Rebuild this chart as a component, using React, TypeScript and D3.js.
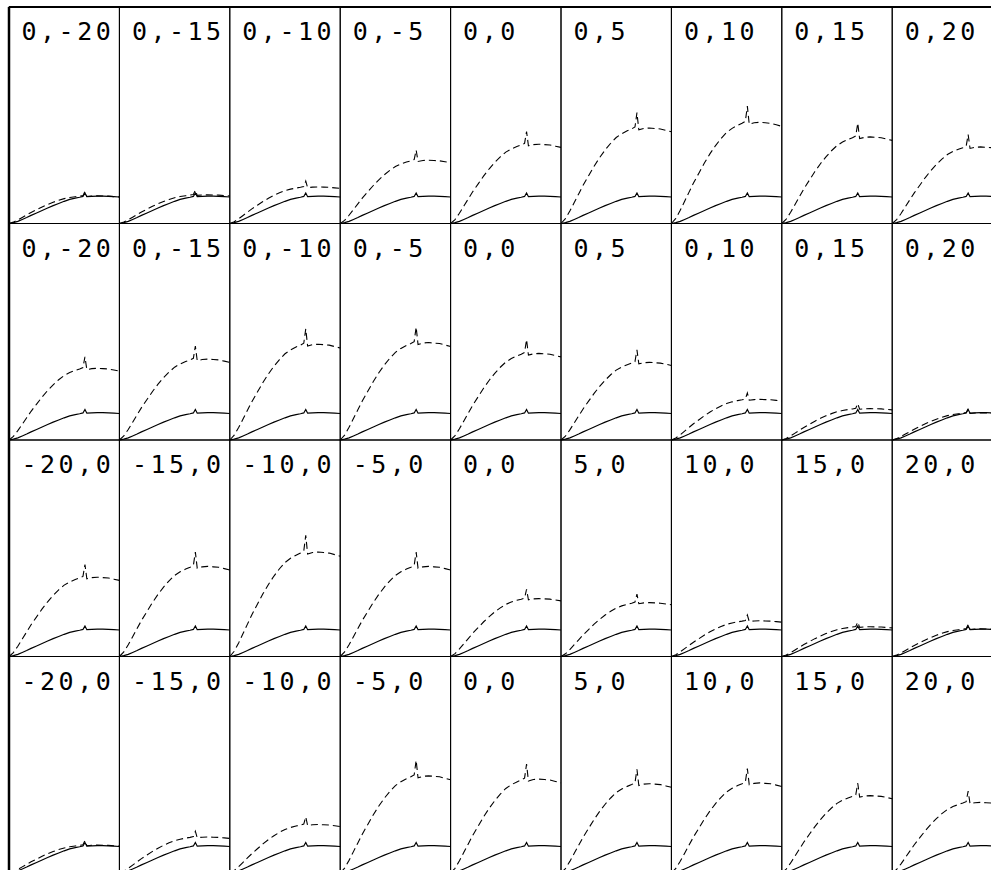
import * as d3 from 'd3';

// panel titles, one list per row of the grid
const row1Labels = ["0,-20", "0,-15", "0,-10", "0,-5", "0,0", "0,5", "0,10", "0,15", "0,20"];
const row2Labels = ["0,-20", "0,-15", "0,-10", "0,-5", "0,0", "0,5", "0,10", "0,15", "0,20"];
const row3Labels = ["-20,0", "-15,0", "-10,0", "-5,0", "0,0", "5,0", "10,0", "15,0", "20,0"];
const row4Labels = ["-20,0", "-15,0", "-10,0", "-5,0", "0,0", "5,0", "10,0", "15,0", "20,0"];

// plateau level of the dashed curve in each panel (solid plateau = 1)
const row1Dashed = [1.02, 1.06, 1.35, 2.34, 2.93, 3.53, 3.74, 3.2, 2.83];
const row2Dashed = [2.65, 2.99, 3.54, 3.6, 3.2, 2.87, 1.5, 1.16, 1.0];
const row3Dashed = [2.93, 3.33, 3.86, 3.33, 2.14, 1.99, 1.32, 1.1, 1.02];
const row4Dashed = [1.03, 1.33, 1.79, 3.59, 3.47, 3.3, 3.33, 2.86, 2.61];

// sample positions along each panel
const xs = [0, 4, 8, 12, 16, 20, 25, 30, 35, 40, 45, 50, 55, 60, 64, 67, 68.8, 70.5, 75, 80, 85, 90, 95, 100];
// reference (solid) curve, same in every panel
const solidValues = [0, 0.03, 0.08, 0.15, 0.22, 0.3, 0.39, 0.48, 0.57, 0.66, 0.74, 0.82, 0.89, 0.94, 0.97, 1.0, 1.13, 0.99, 1.0, 1.01, 1.01, 1.0, 0.99, 0.98];
// dashed curve profile relative to its plateau
const dashedProfile = [0, 0.05, 0.13, 0.22, 0.31, 0.4, 0.5, 0.6, 0.69, 0.77, 0.84, 0.9, 0.94, 0.97, 0.99, 1.01, 1.16, 0.98, 0.995, 1.0, 0.995, 0.99, 0.975, 0.96];

const rows = [
	{ labels: row1Labels, dashed: row1Dashed },
	{ labels: row2Labels, dashed: row2Dashed },
	{ labels: row3Labels, dashed: row3Dashed },
	{ labels: row4Labels, dashed: row4Dashed },
];

const App = () => {
	const left = 9;
	const top = 7;
	const panelW = 110.4;
	const panelH = 216.5;

	const x = d3.scaleLinear().domain([0, 100]).range([0, panelW]);
	const y = d3.scaleLinear().domain([0, 8]).range([panelH, 0]);

	const line = d3.line<[number, number]>()
		.x(d => x(d[0]))
		.y(d => y(d[1]));

	const solidPath = line(xs.map((v, i) => [v, solidValues[i]] as [number, number])) || "";

	return (
		<svg width={991} height={870} style={{ position: "absolute", left: 0, top: 0, background: "#fff" }}>
			{rows.map((row, r) => (
				<g key={r} transform={"translate(" + left + "," + (top + r * panelH) + ")"}>
					{row.labels.map((lab, c) => {
						const dashedPath = line(xs.map((v, i) => [v, dashedProfile[i] * row.dashed[c]] as [number, number])) || "";
						return (
							<g key={c} transform={"translate(" + (c * panelW) + ",0)"}>
								<rect x={0} y={0} width={panelW} height={panelH} fill="none" stroke="#000" strokeWidth={1} />
								<text x={12.5} y={33} fontFamily="DejaVu Sans Mono" fontSize={25} letterSpacing={3.5} fill="#000">{lab}</text>
								<path d={solidPath} fill="none" stroke="#000" strokeWidth={1.2} />
								<path d={dashedPath} fill="none" stroke="#000" strokeWidth={1.1} strokeDasharray="7,4" />
							</g>
						);
					})}
				</g>
			))}
			{/* heavier outer frame on the left and top */}
			<line x1={left} y1={top} x2={991} y2={top} stroke="#000" strokeWidth={2} />
			<line x1={left} y1={top} x2={left} y2={870} stroke="#000" strokeWidth={2.5} />
		</svg>
	);
};

export default App;
